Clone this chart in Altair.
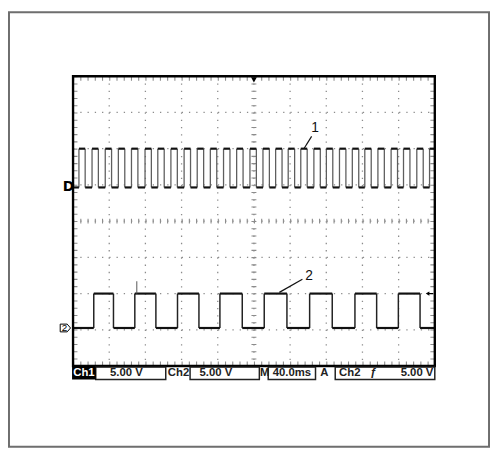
import altair as alt
import pandas as pd

# ---- screen geometry (time in ms, 40 ms/div; vertical in divisions, 5 V/div) ----
X_DOMAIN = [-70.84, 459.95]
Y_DOMAIN = [-6.231, 5.769]
W, H = 487, 441
T_END = 400.0

# ---- channel 1 (fast square wave), edge times in ms ----
ch1_rise = [6.5, 21.0, 35.6, 50.1, 64.6, 79.6, 93.7, 108.2, 122.8, 137.3, 151.8, 166.4,
            180.9, 195.6, 210.0, 224.0, 237.9, 251.8, 266.3, 280.1, 294.6, 308.8, 322.6,
            337.1, 351.7, 365.4, 380.1, 394.2]
ch1_fall = [13.4, 28.0, 42.6, 57.2, 71.7, 86.6, 100.8, 115.3, 129.9, 144.4, 158.9, 173.5,
            188.0, 202.7, 217.1, 231.1, 245.0, 258.9, 273.4, 287.2, 301.7, 315.9, 329.7,
            344.2, 358.8, 372.5, 387.2, 400.0]
CH1_LOW, CH1_HIGH = 0.93, 2.0

# ---- channel 2 (slow square wave) ----
ch2_rise = [22.9, 68.3, 115.5, 162.4, 211.4, 261.6, 311.7, 359.7]
ch2_fall = [44.7, 91.6, 139.2, 187.1, 236.5, 286.6, 335.7, 383.7]
CH2_LOW, CH2_HIGH = -2.95, -2.0
ch2_glitch = [70.5, -1.66]

# ---- graticule ----
grid_x = [40, 80, 120, 160, 240, 280, 320, 360]
grid_y = [-3, -2, -1, 1, 2, 3]

# ---- annotations ----
label_text = ["1", "2"]
label_x = [267.6, 261.0]
label_y = [2.56, -1.52]
leader_x = [263.8, 253.6]
leader_y = [2.34, -1.605]
leader_x2 = [255.4, 228.1]
leader_y2 = [2.005, -1.967]

# ---- status bar ----
bar_boxes_x = [25.1, 129.4, 215.8, 289.9]
bar_boxes_x2 = [102.5, 206.0, 268.1, 400.0]
bar_text = ["5.00 V", "Ch2", "5.00 V", "M", "40.0ms", "A", "Ch2", "\u0192", "5.00 V"]
bar_text_x = [58.9, 116.6, 158.0, 212.0, 242.0, 278.0, 306.0, 332.0, 398.5]
bar_text_align = ["center", "center", "center", "center", "center", "center", "center", "center", "right"]
BAR_Y, BAR_Y2, BAR_TY = -4.03, -4.37, -4.2

xs = alt.Scale(domain=X_DOMAIN, nice=False, zero=False)
ys = alt.Scale(domain=Y_DOMAIN, nice=False, zero=False)


def X(f="x"):
    return alt.X(f + ":Q", scale=xs, axis=None)


def Y(f="y"):
    return alt.Y(f + ":Q", scale=ys, axis=None)


def trace(rise, fall, lo, hi):
    h, v = [], []
    prev = 0.0
    for r, f in zip(rise, fall):
        h.append({"x": prev, "x2": r, "y": lo})
        h.append({"x": r, "x2": min(f, T_END), "y": hi})
        v.append({"x": r, "y": lo, "y2": hi})
        if f < T_END:
            v.append({"x": f, "y": lo, "y2": hi})
        prev = f
    if prev < T_END:
        h.append({"x": prev, "x2": T_END, "y": lo})
    return pd.DataFrame(h), pd.DataFrame(v)


h1, v1 = trace(ch1_rise, ch1_fall, CH1_LOW, CH1_HIGH)
h2, v2 = trace(ch2_rise, ch2_fall, CH2_LOW, CH2_HIGH)

layers = []

# dotted grid
gv = pd.DataFrame({"x": grid_x, "y": [4] * len(grid_x), "y2": [-4] * len(grid_x)})
gh = pd.DataFrame({"y": grid_y, "x": [0] * len(grid_y), "x2": [T_END] * len(grid_y)})
dot = dict(color="#8c8c8c", strokeWidth=1.3, strokeDash=[1.3, 6.05])
layers.append(alt.Chart(gv).mark_rule(**dot).encode(x=X(), y=Y(), y2="y2:Q"))
layers.append(alt.Chart(gh).mark_rule(**dot).encode(x=X(), x2="x2:Q", y=Y()))

# centre cross with minor ticks
cv = pd.DataFrame({"x": [200], "y": [4], "y2": [-4]})
ch = pd.DataFrame({"y": [0], "x": [0], "x2": [T_END]})
tick = dict(color="#8c8c8c", strokeWidth=5, strokeDash=[1.1, 6.24])
layers.append(alt.Chart(cv).mark_rule(**dot).encode(x=X(), y=Y(), y2="y2:Q"))
layers.append(alt.Chart(ch).mark_rule(**dot).encode(x=X(), x2="x2:Q", y=Y()))
layers.append(alt.Chart(cv).mark_rule(**tick).encode(x=X(), y=Y(), y2="y2:Q"))
layers.append(alt.Chart(ch).mark_rule(**tick).encode(x=X(), x2="x2:Q", y=Y()))

# border ticks (inside the screen)
bt_h = pd.DataFrame({"y": [3.93, -3.93], "x": [0, 0], "x2": [T_END, T_END]})
bt_v = pd.DataFrame({"x": [2.7, 397.3], "y": [4, 4], "y2": [-4, -4]})
btick = dict(color="#8c8c8c", strokeWidth=4, strokeDash=[1.1, 6.24])
layers.append(alt.Chart(bt_h).mark_rule(**btick).encode(x=X(), x2="x2:Q", y=Y()))
layers.append(alt.Chart(bt_v).mark_rule(**btick).encode(x=X(), y=Y(), y2="y2:Q"))

# traces
layers.append(alt.Chart(v1).mark_rule(color="#5e5e5e", strokeWidth=1.3).encode(x=X(), y=Y(), y2="y2:Q"))
layers.append(alt.Chart(h1).mark_rule(color="#111", strokeWidth=2.2).encode(x=X(), x2="x2:Q", y=Y()))
layers.append(alt.Chart(v2).mark_rule(color="#222", strokeWidth=1.5).encode(x=X(), y=Y(), y2="y2:Q"))
layers.append(alt.Chart(h2).mark_rule(color="#111", strokeWidth=2.2).encode(x=X(), x2="x2:Q", y=Y()))
gl = pd.DataFrame({"x": [ch2_glitch[0]], "y": [ch2_glitch[1]], "y2": [CH2_HIGH]})
layers.append(alt.Chart(gl).mark_rule(color="#555", strokeWidth=1).encode(x=X(), y=Y(), y2="y2:Q"))

# screen border
sb = pd.DataFrame({"x": [0], "x2": [T_END], "y": [-4], "y2": [4]})
layers.append(alt.Chart(sb).mark_rect(filled=False, stroke="black", strokeWidth=2.4).encode(
    x=X(), x2="x2:Q", y=Y(), y2="y2:Q"))

# trigger markers
tp = pd.DataFrame({"x": [200], "y": [3.9]})
layers.append(alt.Chart(tp).mark_point(shape="triangle-down", filled=True, color="black", size=35, opacity=1).encode(x=X(), y=Y()))
tl = pd.DataFrame({"x": [392], "y": [CH2_HIGH]})
layers.append(alt.Chart(tl).mark_point(shape="triangle-left", filled=True, color="black", size=18, opacity=1).encode(x=X(), y=Y()))
tl2 = pd.DataFrame({"x": [392], "x2": [398], "y": [CH2_HIGH]})
layers.append(alt.Chart(tl2).mark_rule(color="black", strokeWidth=1.2).encode(x=X(), x2="x2:Q", y=Y()))

# channel ground markers
m1 = pd.DataFrame({"x": [-5.0], "y": [CH1_LOW], "t": ["D"]})
layers.append(alt.Chart(m1).mark_text(font="DejaVu Sans", fontWeight="bold", fontSize=14, color="black",
                                       baseline="middle", align="center").encode(x=X(), y=Y(), text="t:N"))
m2 = pd.DataFrame({"x": [-8.5], "y": [CH2_LOW], "t": ["2"]})
layers.append(alt.Chart(m2).mark_point(shape="M-1,-0.75L0.35,-0.75L1,0L0.35,0.75L-1,0.75Z", filled=False,
                                        color="black", strokeWidth=1, size=110, opacity=1).encode(x=X(), y=Y()))
layers.append(alt.Chart(m2).mark_text(font="Liberation Sans", fontSize=10, color="black",
                                       baseline="middle", align="center", dx=-1).encode(x=X(), y=Y(), text="t:N"))

# annotation labels and leaders
lab = pd.DataFrame({"x": label_x, "y": label_y, "t": label_text})
layers.append(alt.Chart(lab).mark_text(font="Liberation Sans", fontSize=14, color="#111",
                                        baseline="middle", align="center").encode(x=X(), y=Y(), text="t:N"))
ld = pd.DataFrame({"x": leader_x, "y": leader_y, "x2": leader_x2, "y2": leader_y2})
layers.append(alt.Chart(ld).mark_rule(color="#111", strokeWidth=1.2).encode(x=X(), y=Y(), x2="x2:Q", y2="y2:Q"))

# status bar
bb = pd.DataFrame({"x": bar_boxes_x, "x2": bar_boxes_x2, "y": [BAR_Y] * 4, "y2": [BAR_Y2] * 4})
layers.append(alt.Chart(bb).mark_rect(filled=False, stroke="#222", strokeWidth=1.5).encode(
    x=X(), x2="x2:Q", y=Y(), y2="y2:Q"))
c1 = pd.DataFrame({"x": [-1.1], "x2": [25.1], "y": [BAR_Y], "y2": [BAR_Y2]})
layers.append(alt.Chart(c1).mark_rect(color="black").encode(x=X(), x2="x2:Q", y=Y(), y2="y2:Q"))
c1t = pd.DataFrame({"x": [12.0], "y": [BAR_TY], "t": ["Ch1"]})
layers.append(alt.Chart(c1t).mark_text(font="Liberation Sans", fontWeight="bold", fontSize=11.5, color="white",
                                        baseline="middle", align="center").encode(x=X(), y=Y(), text="t:N"))
bt = pd.DataFrame({"x": bar_text_x, "y": [BAR_TY] * len(bar_text), "t": bar_text, "a": bar_text_align})
for al in ["center", "right"]:
    layers.append(alt.Chart(bt[bt.a == al]).mark_text(font="Liberation Sans", fontWeight="bold", fontSize=11.5,
                                                        color="#222", baseline="middle", align=al).encode(
        x=X(), y=Y(), text="t:N"))

chart = alt.layer(*layers).properties(
    width=W, height=H,
    autosize=alt.AutoSizeParams(type="none"),
    padding={"left": 1, "top": 1, "right": 1, "bottom": 1},
    background="white",
).configure_view(stroke="#6e6e6e", strokeWidth=2)

chart.save("out.html", embed_options={"renderer": "svg", "actions": False})
